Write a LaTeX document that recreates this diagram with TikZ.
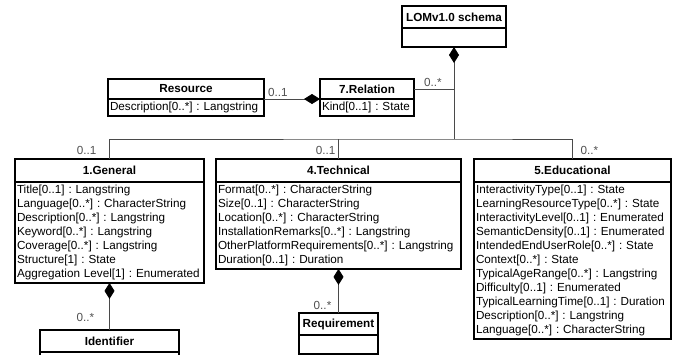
\documentclass[tikz,border=0pt]{standalone}
\usepackage{fontspec}
\setmainfont{Liberation Sans}
\definecolor{LinkGray}{HTML}{4A4A4A}
\definecolor{MultGray}{HTML}{505050}
\usetikzlibrary{arrows.meta,positioning}

\begin{document}
\frenchspacing
\begin{tikzpicture}[x=1pt,y=-1pt,
    font=\fontsize{11.7}{14}\selectfont,
    classhead/.style={draw,line width=1.3pt,outer sep=0pt,inner sep=0pt,
      font=\fontsize{11.7}{14}\selectfont\bfseries,
      minimum width=#1,minimum height=22pt,anchor=north west},
    classbody/.style={draw,line width=1.3pt,outer sep=0pt,text width=#1,
      align=left,inner xsep=2pt,inner ysep=3pt},
    emptybody/.style={draw,line width=1.3pt,outer sep=0pt,
      minimum width=#1,minimum height=19pt},
    link/.style={LinkGray,line width=0.8pt},
    compose/.style={link,{Diamond[length=16pt,width=10pt,color=black]}-},
    mult/.style={MultGray,inner sep=1pt}]
  \useasboundingbox (0,0) rectangle (673,354);

  % classes
  \node[classhead=104] (lomh) at (402,6) {LOMv1.0 schema};
  \node[emptybody=104,below=0pt of lomh] (lomb) {};

  \node[classhead=94,minimum height=20pt] (relh) at (320,79) {7.Relation};
  \node[classbody=90,below=0pt of relh] (relb) {Kind[0..1] : State};

  \node[classhead=156,minimum height=20pt] (resh) at (108,79) {Resource};
  \node[classbody=152,below=0pt of resh] (resb) {Description[0..*] : Langstring};

  \node[classhead=189,minimum height=23pt] (genh) at (15,159) {1.General};
  \node[classbody=185,below=0pt of genh] (genb) {Title[0..1] : Langstring\\
    Language[0..*] : CharacterString\\
    Description[0..*] : Langstring\\
    Keyword[0..*] : Langstring\\
    Coverage[0..*] : Langstring\\
    Structure[1] : State\\
    Aggregation Level[1] : Enumerated};

  \node[classhead=245,minimum height=23pt] (techh) at (216,159) {4.Technical};
  \node[classbody=241,below=0pt of techh] (techb) {Format[0..*] : CharacterString\\
    Size[0..1] : CharacterString\\
    Location[0..*] : CharacterString\\
    InstallationRemarks[0..*] : Langstring\\
    OtherPlatformRequirements[0..*] : Langstring\\
    Duration[0..1] : Duration};

  \node[classhead=197,minimum height=23pt] (eduh) at (474,159) {5.Educational};
  \node[classbody=193,below=0pt of eduh] (edub) {InteractivityType[0..1] : State\\
    LearningResourceType[0..*] : State\\
    InteractivityLevel[0..1] : Enumerated\\
    SemanticDensity[0..1] : Enumerated\\
    IntendedEndUserRole[0..*] : State\\
    Context[0..*] : State\\
    TypicalAgeRange[0..*] : Langstring\\
    Difficulty[0..1] : Enumerated\\
    TypicalLearningTime[0..1] : Duration\\
    Description[0..*] : Langstring\\
    Language[0..*] : CharacterString};

  \node[classhead=139] (idh) at (40,330) {Identifier};
  \node[emptybody=139,below=0pt of idh] (idb) {};

  \node[classhead=79] (reqh) at (299,313) {Requirement};
  \node[emptybody=79,below=0pt of reqh] (reqb) {};

  % associations
  \coordinate (hub) at (lomb.south |- 0,139);
  \draw[compose] (lomb.south) -- (hub);
  \draw[link] (genh.north) |- (hub) -| (eduh.north);
  \draw[link] (techh.north) -- (techh.north |- hub);
  \draw[link] (relh.east) -- (relh.east -| hub);
  \draw[compose] (relh.south west) -- (resh.south east);
  \draw[compose] (genb.south) -- (idh.north);
  \draw[compose] (techb.south) -- (reqh.north);

  % multiplicities
  \node[mult,above right=1pt and 9pt of relh.east] (mrel) {0..*};
  \node[mult,above right=1pt and 3pt of resh.south east] (mres) {0..1};
  \node[mult,above left=3pt and 12pt of genh.north] (mgen) {0..1};
  \node[mult,above left=3pt and 2pt of techh.north] (mtech) {0..1};
  \node[mult,above right=3pt and 7pt of eduh.north] (medu) {0..*};
  \node[mult,above left=7pt and 14pt of idh.north] (mid) {0..*};
  \node[mult,above left=2pt and 6pt of reqh.north] (mreq) {0..*};
\end{tikzpicture}
\end{document}
